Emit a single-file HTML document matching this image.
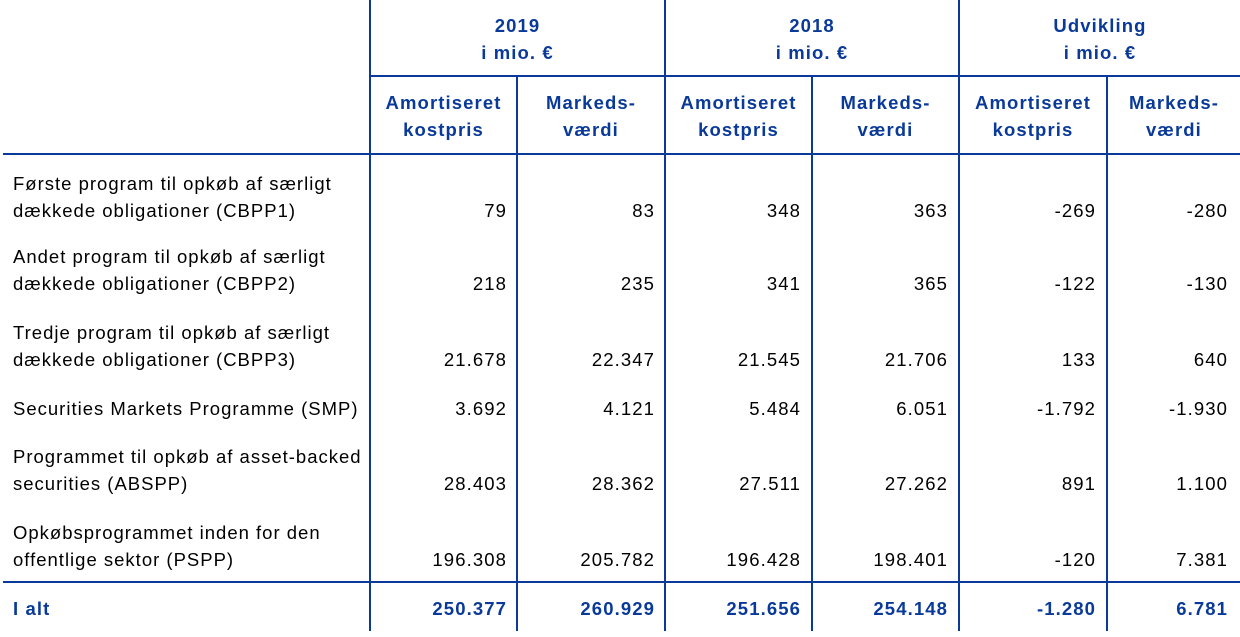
<!DOCTYPE html>
<html><head><meta charset="utf-8"><style>
body{margin:0;width:1240px;height:637px;background:#fff;position:relative;overflow:hidden;font-family:"Liberation Sans",sans-serif;font-size:18.5px;letter-spacing:1.1px;color:#000}
.l{position:absolute;background:#0a3a99}
.t{position:absolute;line-height:27px;white-space:nowrap}
.lb{letter-spacing:1.0px}
.b{color:#0a3a99;font-weight:bold}
.c{text-align:center}
.r{text-align:right}
.c1{left:371px;width:136px}.c2{left:518px;width:137px}.c3{left:666px;width:135px}
.c4{left:813px;width:135px}.c5{left:960px;width:136px}.c6{left:1108px;width:120px}
</style></head><body>
<div class="l" style="left:369px;top:0;width:2px;height:631px"></div>
<div class="l" style="left:664px;top:0;width:2px;height:631px"></div>
<div class="l" style="left:958px;top:0;width:2px;height:631px"></div>
<div class="l" style="left:516px;top:76px;width:2px;height:555px"></div>
<div class="l" style="left:811px;top:76px;width:2px;height:555px"></div>
<div class="l" style="left:1106px;top:76px;width:2px;height:555px"></div>
<div class="l" style="left:370px;top:75px;width:870px;height:2px"></div>
<div class="l" style="left:3px;top:153px;width:1237px;height:2px"></div>
<div class="l" style="left:3px;top:581px;width:1237px;height:2px"></div>

<div class="t b c" style="left:371px;width:293px;top:12px">2019<br>i mio. €</div>
<div class="t b c" style="left:666px;width:292px;top:12px">2018<br>i mio. €</div>
<div class="t b c" style="left:960px;width:280px;top:12px">Udvikling<br>i mio. €</div>

<div class="t b c" style="left:371px;width:145px;top:89px">Amortiseret<br>kostpris</div>
<div class="t b c" style="left:518px;width:146px;top:89px">Markeds-<br>værdi</div>
<div class="t b c" style="left:666px;width:145px;top:89px">Amortiseret<br>kostpris</div>
<div class="t b c" style="left:813px;width:145px;top:89px">Markeds-<br>værdi</div>
<div class="t b c" style="left:960px;width:146px;top:89px">Amortiseret<br>kostpris</div>
<div class="t b c" style="left:1108px;width:132px;top:89px">Markeds-<br>værdi</div>

<div class="t lb" style="left:13px;top:170px">Første program til opkøb af særligt<br>dækkede obligationer (CBPP1)</div>
<div class="t lb" style="left:13px;top:243px">Andet program til opkøb af særligt<br>dækkede obligationer (CBPP2)</div>
<div class="t lb" style="left:13px;top:319px">Tredje program til opkøb af særligt<br>dækkede obligationer (CBPP3)</div>
<div class="t lb" style="left:13px;top:395px">Securities Markets Programme (SMP)</div>
<div class="t lb" style="left:13px;top:443px">Programmet til opkøb af asset-backed<br>securities (ABSPP)</div>
<div class="t lb" style="left:13px;top:519px">Opkøbsprogrammet inden for den<br>offentlige sektor (PSPP)</div>
<div class="t b" style="left:13px;top:595px">I alt</div>

<div class="t r c1" style="top:197px">79</div><div class="t r c2" style="top:197px">83</div><div class="t r c3" style="top:197px">348</div><div class="t r c4" style="top:197px">363</div><div class="t r c5" style="top:197px">-269</div><div class="t r c6" style="top:197px">-280</div>
<div class="t r c1" style="top:270px">218</div><div class="t r c2" style="top:270px">235</div><div class="t r c3" style="top:270px">341</div><div class="t r c4" style="top:270px">365</div><div class="t r c5" style="top:270px">-122</div><div class="t r c6" style="top:270px">-130</div>
<div class="t r c1" style="top:346px">21.678</div><div class="t r c2" style="top:346px">22.347</div><div class="t r c3" style="top:346px">21.545</div><div class="t r c4" style="top:346px">21.706</div><div class="t r c5" style="top:346px">133</div><div class="t r c6" style="top:346px">640</div>
<div class="t r c1" style="top:395px">3.692</div><div class="t r c2" style="top:395px">4.121</div><div class="t r c3" style="top:395px">5.484</div><div class="t r c4" style="top:395px">6.051</div><div class="t r c5" style="top:395px">-1.792</div><div class="t r c6" style="top:395px">-1.930</div>
<div class="t r c1" style="top:470px">28.403</div><div class="t r c2" style="top:470px">28.362</div><div class="t r c3" style="top:470px">27.511</div><div class="t r c4" style="top:470px">27.262</div><div class="t r c5" style="top:470px">891</div><div class="t r c6" style="top:470px">1.100</div>
<div class="t r c1" style="top:546px">196.308</div><div class="t r c2" style="top:546px">205.782</div><div class="t r c3" style="top:546px">196.428</div><div class="t r c4" style="top:546px">198.401</div><div class="t r c5" style="top:546px">-120</div><div class="t r c6" style="top:546px">7.381</div>
<div class="t r b c1" style="top:595px">250.377</div><div class="t r b c2" style="top:595px">260.929</div><div class="t r b c3" style="top:595px">251.656</div><div class="t r b c4" style="top:595px">254.148</div><div class="t r b c5" style="top:595px">-1.280</div><div class="t r b c6" style="top:595px">6.781</div>
</body></html>
